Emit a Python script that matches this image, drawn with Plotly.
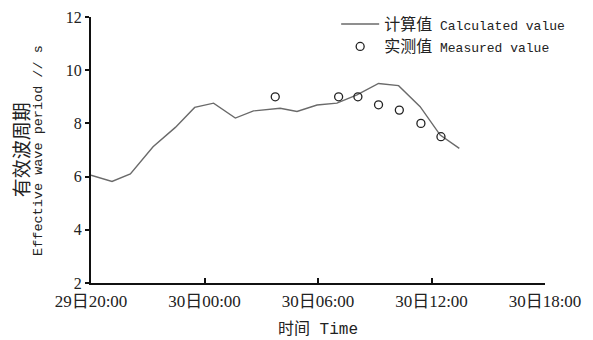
import plotly.graph_objects as go

# x positions on the axis (axis units; tick labels below), y = effective wave period (s)
calc_x = [0, 1.11, 2.08, 3.28, 4.46, 5.48, 6.48, 7.63, 8.59, 10.0, 10.89, 11.95, 13.0, 14.06, 15.2, 16.26, 17.4, 18.46, 19.47]
calc_y = [6.05, 5.82, 6.1, 7.12, 7.85, 8.6, 8.76, 8.2, 8.47, 8.57, 8.45, 8.69, 8.76, 9.07, 9.5, 9.42, 8.63, 7.56, 7.06]

meas_x = [9.74, 13.09, 14.11, 15.2, 16.3, 17.44, 18.5]
meas_y = [9.0, 9.0, 9.0, 8.7, 8.5, 8.0, 7.5]

tick_vals = [0, 6, 12, 18, 24]
tick_text = ["29日20:00", "30日00:00", "30日06:00", "30日12:00", "30日18:00"]
y_ticks = [2, 4, 6, 8, 10, 12]

CJK = "Noto Sans CJK SC"
MONO = "Liberation Mono"
SERIF = "Liberation Serif"

def mixed(cn, en, cn_size=16, en_size=13):
    return (f'<span style="font-family:{CJK};font-size:{cn_size}px">{cn}</span>'
            f'<span style="font-family:{MONO};font-size:{en_size}px"> {en}</span>')

fig = go.Figure()
fig.add_trace(go.Scatter(
    x=calc_x, y=calc_y, mode="lines",
    line=dict(color="#6a6a6a", width=1.4),
    name=mixed("计算值", "Calculated value"),
))
fig.add_trace(go.Scatter(
    x=meas_x, y=meas_y, mode="markers",
    marker=dict(symbol="circle-open", size=8, color="#222222", line=dict(width=1.3)),
    name=mixed("实测值", "Measured value"),
    cliponaxis=False,
))

# page body has an 8px default margin, so the figure is sized to fit inside the window
fig.update_layout(
    width=585, height=332,
    margin=dict(l=83, r=48, t=9, b=57, autoexpand=False),
    paper_bgcolor="white", plot_bgcolor="white",
    font=dict(family=f"{SERIF}, {CJK}", size=15, color="#222222"),
    showlegend=True,
    legend=dict(
        x=0.54, y=1.035, xanchor="left", yanchor="top",
        bgcolor="rgba(0,0,0,0)", borderwidth=0,
        tracegroupgap=0, itemwidth=38,
        font=dict(size=15),
    ),
    xaxis=dict(
        range=[0, 24], tickvals=tick_vals, ticktext=tick_text,
        showline=True, linecolor="#111111", linewidth=2,
        ticks="inside", ticklen=5, tickwidth=2, tickcolor="#111111",
        showgrid=False, zeroline=False, automargin=False,
        ticklabeloverflow="allow", ticklabelstandoff=2,
        tickfont=dict(family=f"{SERIF}, {CJK}", size=17),
        title=dict(text=mixed("时间", "Time", 16, 16), standoff=12,
                   font=dict(size=16)),
    ),
    yaxis=dict(
        range=[2, 12], tickvals=y_ticks,
        showline=True, linecolor="#111111", linewidth=2,
        ticks="outside", ticklen=4, tickwidth=1.5, tickcolor="#111111",
        showgrid=False, zeroline=False, automargin=False,
        ticklabeloverflow="allow",
        tickfont=dict(family=SERIF, size=16),
    ),
)

fig.add_annotation(
    xref="paper", yref="paper", x=-0.156, y=0.5, textangle=-90,
    text=f'<span style="font-family:{CJK};font-size:19px">有效波周期</span>',
    showarrow=False, xanchor="center", yanchor="middle",
)
fig.add_annotation(
    xref="paper", yref="paper", x=-0.117, y=0.5, textangle=-90,
    text=f'<span style="font-family:{MONO};font-size:13.5px">Effective wave period // s</span>',
    showarrow=False, xanchor="center", yanchor="middle",
)

fig.write_html("out.html")
